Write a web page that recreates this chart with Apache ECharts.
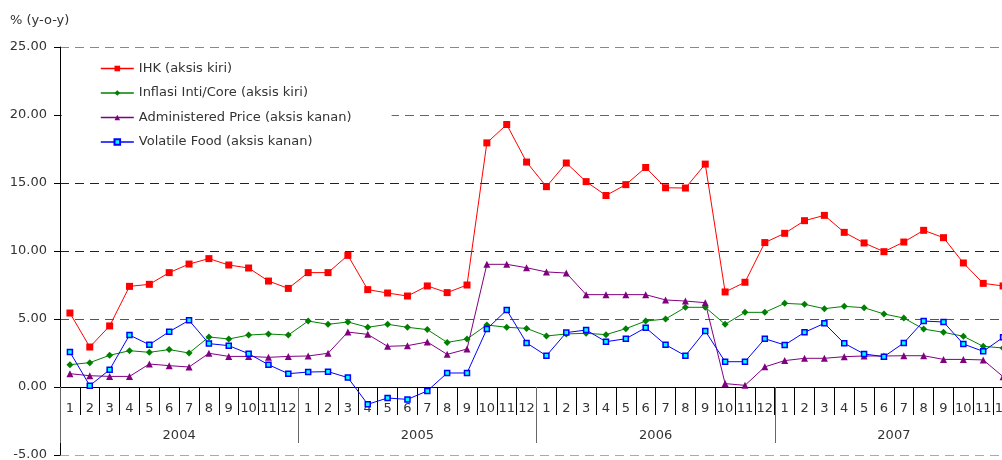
<!DOCTYPE html>
<html>
<head>
<meta charset="utf-8">
<script src="https://cdn.jsdelivr.net/npm/echarts@6/dist/echarts.min.js"></script>
<style>
html,body{margin:0;padding:0;background:#fff;}
#chart{width:1002px;height:460px;}
</style>
</head>
<body>
<div id="chart"></div>
<script>
const months = ['1','2','3','4','5','6','7','8','9','10','11','12',
  '1','2','3','4','5','6','7','8','9','10','11','12',
  '1','2','3','4','5','6','7','8','9','10','11','12',
  '1','2','3','4','5','6','7','8','9','10','11','12'];
const years = ['2004','2005','2006','2007'];
const yTicks = [-5, 0, 5, 10, 15, 20, 25];

const ihk = [5.44, 2.94, 4.49, 7.40, 7.55, 8.41, 9.04, 9.44, 8.97, 8.75, 7.79, 7.25,
  8.41, 8.41, 9.68, 7.16, 6.91, 6.69, 7.43, 6.94, 7.50, 17.95, 19.30, 16.54,
  14.73, 16.47, 15.10, 14.08, 14.88, 16.14, 14.65, 14.63, 16.39, 6.99, 7.70, 10.62,
  11.30, 12.23, 12.62, 11.37, 10.59, 9.95, 10.66, 11.52, 10.98, 9.12, 7.62, 7.43];
const core = [1.64, 1.79, 2.33, 2.67, 2.55, 2.75, 2.50, 3.68, 3.53, 3.82, 3.90, 3.82,
  4.85, 4.61, 4.78, 4.39, 4.61, 4.39, 4.22, 3.28, 3.53, 4.56, 4.39, 4.31,
  3.75, 3.90, 3.95, 3.85, 4.29, 4.85, 5.00, 5.86, 5.86, 4.61, 5.49, 5.49,
  6.15, 6.08, 5.76, 5.93, 5.83, 5.37, 5.07, 4.26, 4.02, 3.73, 2.99, 2.87];
const admin = [0.98, 0.83, 0.78, 0.78, 1.69, 1.57, 1.47, 2.48, 2.25, 2.25, 2.18, 2.25,
  2.28, 2.48, 4.04, 3.87, 2.99, 3.04, 3.31, 2.40, 2.79, 9.02, 9.02, 8.77,
  8.46, 8.38, 6.79, 6.79, 6.79, 6.79, 6.40, 6.32, 6.20, 0.25, 0.12, 1.48,
  1.94, 2.11, 2.11, 2.23, 2.28, 2.28, 2.30, 2.30, 2.03, 2.03, 1.99, 0.76];
const volatile = [2.57, 0.10, 1.27, 3.82, 3.11, 4.07, 4.90, 3.19, 3.04, 2.45, 1.64, 0.98,
  1.10, 1.13, 0.69, -1.27, -0.81, -0.91, -0.29, 1.03, 1.03, 4.26, 5.66, 3.24,
  2.30, 4.00, 4.19, 3.33, 3.55, 4.36, 3.11, 2.30, 4.12, 1.86, 1.86, 3.55,
  3.09, 4.02, 4.68, 3.21, 2.43, 2.23, 3.24, 4.85, 4.78, 3.16, 2.62, 3.65];

const seriesNames = ['IHK (aksis kiri)', 'Inflasi Inti/Core (aksis kiri)',
  'Administered Price (aksis kanan)', 'Volatile Food (aksis kanan)'];

const FONT = 'DejaVu Sans';
const chart = echarts.init(document.getElementById('chart'), null, {renderer: 'canvas'});

// grid: top 47, bottom edge at 455 (value -5); zero line lies 68px above bottom
const ZERO_OFFSET = -68;

chart.setOption({
  animation: false,
  backgroundColor: '#fff',
  textStyle: {fontFamily: FONT},
  title: {
    text: '% (y-o-y)',
    left: 5, top: 9,
    textStyle: {fontFamily: FONT, fontSize: 13, fontWeight: 'normal', color: '#333'}
  },
  legend: {
    orient: 'vertical',
    left: 62, top: 56,
    padding: [6, 40, 8, 38],
    backgroundColor: '#fff',
    itemWidth: 33, itemHeight: 7,
    itemGap: 11.5,
    lineStyle: {width: 1.6},
    textStyle: {fontFamily: FONT, fontSize: 13, color: '#333'},
    data: seriesNames
  },
  grid: {left: 60, right: -11, top: 47, bottom: 5, containLabel: false, outerBoundsMode: 'none'},
  xAxis: [{
    type: 'category',
    data: months,
    position: 'bottom',
    offset: ZERO_OFFSET,
    boundaryGap: true,
    axisLine: {show: true, onZero: false, lineStyle: {color: '#000', width: 1}},
    axisTick: {show: true, interval: 0, length: 28, lineStyle: {color: '#000', width: 1}},
    axisLabel: {interval: 0, margin: 15, fontFamily: FONT, fontSize: 13, color: '#333'},
    splitLine: {show: false}
  }, {
    type: 'category',
    data: years,
    position: 'bottom',
    offset: ZERO_OFFSET,
    boundaryGap: true,
    axisLine: {show: false, onZero: false},
    axisTick: {show: true, interval: 0, length: 56, lineStyle: {color: '#666', width: 1}},
    axisLabel: {interval: 0, margin: 42, fontFamily: FONT, fontSize: 13, color: '#333'},
    splitLine: {show: false}
  }],
  yAxis: [{
    type: 'value',
    min: yTicks[0], max: yTicks[yTicks.length - 1], interval: 5,
    axisLine: {show: true, lineStyle: {color: '#000', width: 1}},
    axisTick: {show: true, length: 6, lineStyle: {color: '#000'}},
    axisLabel: {
      margin: 13,
      fontFamily: FONT, fontSize: 13, color: '#333',
      formatter: v => v.toFixed(2)
    },
    splitLine: {
      show: true,
      lineStyle: {type: [9, 6], color: ['#aaa', '#000', '#555', '#222', '#222', '#666', '#888'], width: 1}
    }
  }],
  series: [{
    name: seriesNames[0], type: 'line', data: ihk,
    symbol: 'rect', symbolSize: 7,
    lineStyle: {color: '#ff0000', width: 1},
    itemStyle: {color: '#ff0000'}
  }, {
    name: seriesNames[1], type: 'line', data: core,
    symbol: 'diamond', symbolSize: 7,
    lineStyle: {color: '#008000', width: 1},
    itemStyle: {color: '#008000'}
  }, {
    name: seriesNames[2], type: 'line', data: admin,
    symbol: 'triangle', symbolSize: 7,
    lineStyle: {color: '#800080', width: 1},
    itemStyle: {color: '#800080'}
  }, {
    name: seriesNames[3], type: 'line', data: volatile,
    symbol: 'rect', symbolSize: 5,
    lineStyle: {color: '#0000ff', width: 1},
    itemStyle: {color: '#00ffff', borderColor: '#0000ff', borderWidth: 1.5}
  }]
});
</script>
</body>
</html>
